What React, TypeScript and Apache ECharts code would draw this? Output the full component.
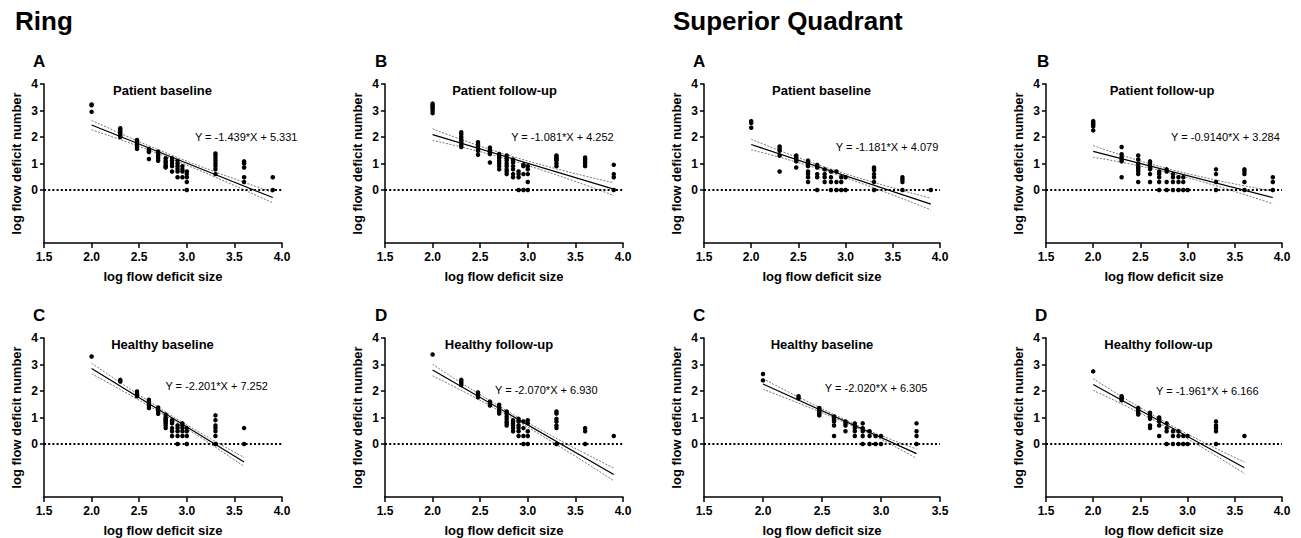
import React, { useEffect, useRef } from "react";
import * as echarts from "echarts";

// ---------- DATA ----------
// discrete x positions (log flow deficit size)
const xLevels = [2.0, 2.301, 2.477, 2.602, 2.699, 2.778, 2.845, 2.903, 2.954, 3.0, 3.301, 3.602, 3.903];

// y values (log flow deficit number) grouped by x level
const ringPatientBaseline = [
  [3.23, 3.2, 2.95],
  [2.33, 2.27, 2.2, 2.13, 2.06, 2.0],
  [1.89, 1.83, 1.77, 1.7, 1.62, 1.55],
  [1.55, 1.48, 1.43, 1.17],
  [1.45, 1.36, 1.28, 1.2, 1.1],
  [1.2, 1.1, 1.04, 0.95, 0.9, 0.85],
  [1.2, 1.1, 1.0, 0.9, 0.7],
  [1.1, 1.0, 0.9, 0.8, 0.7, 0.48],
  [0.9, 0.78, 0.7, 0.48],
  [0.7, 0.6, 0.48, 0.3, 0],
  [1.38, 1.3, 1.2, 1.1, 1.0, 0.9, 0.78, 0.6],
  [1.08, 1.0, 0.85, 0.48, 0.3],
  [0.48, 0],
];
const ringPatientFollowUp = [
  [3.26, 3.2, 3.14, 3.08, 3.0, 2.9],
  [2.18, 2.1, 2.0, 1.92, 1.85, 1.78, 1.7, 1.62],
  [1.8, 1.72, 1.65, 1.58, 1.48, 1.33],
  [1.6, 1.52, 1.44, 1.36, 1.04],
  [1.36, 1.28, 1.2, 1.1, 1.0, 0.9, 0.78],
  [1.3, 1.2, 1.11, 1.0, 0.9, 0.78, 0.7, 0.6],
  [1.15, 1.04, 0.9, 0.78, 0.6, 0.48],
  [0.7, 0.6, 0.48, 0],
  [0.95, 0.9, 0.6, 0],
  [0.9, 0.78, 0.6, 0.3, 0],
  [1.3, 1.25, 1.2, 1.15, 1.1, 1.0, 0.9],
  [1.23, 1.15, 1.08, 1.0, 0.9],
  [0.95, 0.6, 0.48, 0],
];
const sqPatientBaseline = [
  [2.6, 2.53, 2.35],
  [1.64, 1.56, 1.48, 1.3, 0.7],
  [1.3, 1.23, 1.15, 1.08, 0.85],
  [1.11, 1.0, 0.9, 0.7, 0.6, 0.48, 0.3],
  [0.95, 0.9, 0.85, 0.6, 0.48, 0],
  [0.78, 0.6, 0.48, 0.3],
  [0.7, 0.48, 0.3, 0],
  [0.7, 0.3, 0],
  [0.48, 0.3, 0],
  [0.48, 0],
  [0.85, 0.8, 0.75, 0.6, 0.48, 0.3, 0],
  [0.48, 0.4, 0.3, 0],
  [0],
];
const sqPatientFollowUp = [
  [2.6, 2.55, 2.48, 2.4, 2.25],
  [1.62, 1.35, 1.25, 1.15, 1.08, 0.48],
  [1.3, 1.15, 1.0, 0.9, 0.85, 0.78, 0.7, 0.6, 0.3],
  [1.08, 1.0, 0.9, 0.85, 0.78, 0.6, 0.3],
  [0.7, 0.6, 0.48, 0.3, 0],
  [0.78, 0.7, 0.3, 0],
  [0.6, 0.48, 0.3, 0],
  [0.48, 0.3, 0],
  [0.48, 0.3, 0],
  [0],
  [0.78, 0.6, 0.3, 0],
  [0.78, 0.7, 0.6, 0.3, 0],
  [0.48, 0.3, 0],
];
const ringHealthyBaseline = [
  [3.3],
  [2.42, 2.36],
  [1.98, 1.92, 1.86, 1.8],
  [1.67, 1.6, 1.52, 1.44, 1.36],
  [1.38, 1.3, 1.22, 1.14],
  [1.11, 1.0, 0.95, 0.9, 0.85, 0.78, 0.7, 0.6],
  [0.9, 0.85, 0.78, 0.6, 0.48, 0.3],
  [0.7, 0.6, 0.48, 0.3, 0],
  [0.78, 0.7, 0.6, 0.48, 0.3],
  [0.6, 0.48, 0.3, 0],
  [1.08, 0.9, 0.7, 0.6, 0.48, 0.3, 0],
  [0.6, 0],
  [],
];
const ringHealthyFollowUp = [
  [3.38],
  [2.42, 2.36, 2.3, 2.22],
  [1.95, 1.88, 1.82, 1.76],
  [1.6, 1.52, 1.45],
  [1.48, 1.4, 1.32, 1.23, 1.15],
  [1.23, 1.15, 1.04, 0.95, 0.85, 0.78, 0.7],
  [0.9, 0.85, 0.78, 0.7, 0.6, 0.48],
  [0.95, 0.85, 0.7, 0.6, 0.48, 0.3],
  [0.85, 0.6, 0.3, 0],
  [0.9, 0.78, 0.48, 0.3, 0],
  [1.23, 1.15, 0.95, 0.85, 0.7, 0.6, 0],
  [0.6, 0.48, 0],
  [0.3],
];
const sqHealthyBaseline = [
  [2.64, 2.4],
  [1.8, 1.72],
  [1.36, 1.3, 1.23, 1.15, 1.08],
  [1.04, 1.0, 0.95, 0.9, 0.85, 0.7, 0.3],
  [0.85, 0.78, 0.7, 0.48],
  [0.78, 0.7, 0.6, 0.48, 0.3],
  [0.78, 0.6, 0.48, 0.3, 0],
  [0.48, 0.3, 0],
  [0.3, 0],
  [0.3, 0],
  [0.78, 0.48, 0.3, 0],
  [],
  [],
];
const sqHealthyFollowUp = [
  [2.74],
  [1.8, 1.75, 1.7, 1.65],
  [1.36, 1.3, 1.23, 1.15, 1.11],
  [1.18, 1.11, 1.04, 1.0, 0.95, 0.7, 0.6],
  [1.0, 0.95, 0.9, 0.85, 0.7, 0.3],
  [0.78, 0.6, 0.48, 0],
  [0.48, 0.3, 0],
  [0.48, 0.3, 0],
  [0.3, 0],
  [0.3, 0],
  [0.85, 0.7, 0.6, 0.48, 0],
  [0.3],
  [],
];

const panelData = [
  ringPatientBaseline, ringPatientFollowUp, sqPatientBaseline, sqPatientFollowUp,
  ringHealthyBaseline, ringHealthyFollowUp, sqHealthyBaseline, sqHealthyFollowUp,
];
const panelTitles = [
  "Patient baseline", "Patient follow-up", "Patient baseline", "Patient follow-up",
  "Healthy baseline", "Healthy follow-up", "Healthy baseline", "Healthy follow-up",
];
const panelLetters = ["A", "B", "A", "B", "C", "D", "C", "D"];
const sectionTitles = ["Ring", "Superior Quadrant"];

// linear regression results
const slopes = [-1.439, -1.081, -1.181, -0.914, -2.201, -2.07, -2.02, -1.961];
const intercepts = [5.331, 4.252, 4.079, 3.284, 7.252, 6.93, 6.305, 6.166];
const equationTexts = [
  "Y = -1.439*X + 5.331", "Y = -1.081*X + 4.252", "Y = -1.181*X + 4.079", "Y = -0.9140*X + 3.284",
  "Y = -2.201*X + 7.252", "Y = -2.070*X + 6.930", "Y = -2.020*X + 6.305", "Y = -1.961*X + 6.166",
];
const equationAnchor = [
  [3.08, 2.0], [2.82, 2.0], [2.89, 1.64], [2.82, 2.0],
  [2.77, 2.2], [2.65, 2.03], [2.52, 2.1], [2.66, 2.0],
];
const fitXStart = [2.0, 2.0, 2.0, 2.0, 2.0, 2.0, 2.0, 2.0];
const fitXMid = [2.85, 2.85, 2.85, 2.85, 2.85, 2.85, 2.8, 2.8];
const fitXEnd = [3.903, 3.903, 3.903, 3.903, 3.602, 3.903, 3.301, 3.602];
// 95% confidence band half width at start / narrowest / end
const ciHalfWidth = [
  [0.18, 0.07, 0.2], [0.22, 0.08, 0.24], [0.2, 0.07, 0.22], [0.22, 0.07, 0.24],
  [0.2, 0.07, 0.17], [0.22, 0.08, 0.24], [0.2, 0.05, 0.18], [0.22, 0.08, 0.22],
];
const xAxisMax = [4, 4, 4, 4, 4, 4, 3.5, 4];

// ---------- LAYOUT ----------
const gridLeft = [44, 385, 704, 1046, 44, 385, 704, 1046];
const gridTop = [84, 84, 84, 84, 338, 338, 338, 338];
const gridWidth = [238, 238, 236, 236, 238, 238, 236, 236];
const gridHeight = 159;
const subtitleX = [162.5, 504.5, 821.5, 1162, 162.5, 499, 822, 1158.5];
const letterX = [33, 375, 693, 1037, 33, 375, 693, 1035];
const sectionX = [15, 673];

const FONT = '"Liberation Sans", Arial, Helvetica, sans-serif';

function buildOption() {
  const grid: any[] = [];
  const xAxis: any[] = [];
  const yAxis: any[] = [];
  const series: any[] = [];
  const graphic: any[] = [];

  sectionTitles.forEach((t, i) => {
    graphic.push({
      type: "text",
      x: sectionX[i],
      y: 21,
      style: {
        text: t, fill: "#000", font: `bold 26px ${FONT}`,
        align: "left", verticalAlign: "middle", textAlign: "left", textVerticalAlign: "middle",
      },
    });
  });

  panelData.forEach((groups, i) => {
    const top = gridTop[i];
    grid.push({ left: gridLeft[i], top, width: gridWidth[i], height: gridHeight, containLabel: false });

    xAxis.push({
      type: "value", gridIndex: i, min: 1.5, max: xAxisMax[i], interval: 0.5,
      name: "log flow deficit size", nameLocation: "middle", nameGap: 27,
      nameTextStyle: { fontFamily: FONT, fontWeight: "bold", fontSize: 13, color: "#000" },
      axisLine: { show: true, onZero: false, lineStyle: { color: "#000", width: 1.5 } },
      axisTick: { show: true, length: 5, lineStyle: { color: "#000", width: 1.5 } },
      axisLabel: {
        fontFamily: FONT, fontWeight: "bold", fontSize: 12, color: "#000", margin: 8,
        formatter: (v: number) => v.toFixed(1),
      },
      splitLine: { show: false },
    });
    yAxis.push({
      type: "value", gridIndex: i, min: -2, max: 4, interval: 1,
      name: "log flow deficit number", nameLocation: "middle", nameGap: 21,
      nameTextStyle: { fontFamily: FONT, fontWeight: "bold", fontSize: 13, color: "#000" },
      axisLine: { show: true, onZero: false, lineStyle: { color: "#000", width: 1.5 } },
      axisTick: { show: true, length: 4, lineStyle: { color: "#000", width: 1.5 }, customValues: [0, 1, 2, 3, 4] },
      axisLabel: {
        fontFamily: FONT, fontWeight: "bold", fontSize: 12, color: "#000", margin: 6,
        customValues: [0, 1, 2, 3, 4],
        formatter: (v: number) => (v < 0 ? "" : String(v)),
      },
      splitLine: { show: false },
    });

    const pts: number[][] = [];
    groups.forEach((ys, k) => ys.forEach((y) => pts.push([xLevels[k], y])));

    const s = slopes[i];
    const b = intercepts[i];
    const cx = [fitXStart[i], fitXMid[i], fitXEnd[i]];
    const hw = ciHalfWidth[i];

    series.push({
      type: "line", xAxisIndex: i, yAxisIndex: i, symbol: "none", silent: true,
      data: [[fitXStart[i], s * fitXStart[i] + b], [fitXEnd[i], s * fitXEnd[i] + b]],
      lineStyle: { color: "#000", width: 1.2 }, z: 3,
    });
    series.push({
      type: "line", xAxisIndex: i, yAxisIndex: i, symbol: "none", silent: true, smooth: true,
      data: cx.map((x, k) => [x, s * x + b + hw[k]]),
      lineStyle: { color: "#777", width: 1, type: [2, 1.5] }, z: 2,
    });
    series.push({
      type: "line", xAxisIndex: i, yAxisIndex: i, symbol: "none", silent: true, smooth: true,
      data: cx.map((x, k) => [x, s * x + b - hw[k]]),
      lineStyle: { color: "#777", width: 1, type: [2, 1.5] }, z: 2,
    });
    series.push({
      type: "scatter", xAxisIndex: i, yAxisIndex: i, data: pts, symbolSize: 4.5,
      itemStyle: { color: "#000", opacity: 1 }, z: 4,
      markLine: {
        silent: true, symbol: ["none", "none"], label: { show: false },
        lineStyle: { color: "#000", type: [2, 2.2], width: 1.8 },
        data: [{ yAxis: 0 }],
      },
      markPoint: {
        silent: true, symbol: "rect", symbolSize: [1, 1],
        itemStyle: { color: "rgba(0,0,0,0)" },
        data: [{
          coord: equationAnchor[i],
          label: {
            show: true, position: "right", distance: 0, formatter: equationTexts[i],
            fontFamily: FONT, fontSize: 11, color: "#000",
          },
        }],
      },
    });

    graphic.push({
      type: "text", x: subtitleX[i], y: top + 6,
      style: {
        text: panelTitles[i], fill: "#000", font: `bold 13px ${FONT}`,
        align: "center", verticalAlign: "middle", textAlign: "center", textVerticalAlign: "middle",
      },
    });
    graphic.push({
      type: "text", x: letterX[i], y: top - 23,
      style: {
        text: panelLetters[i], fill: "#000", font: `bold 17px ${FONT}`,
        align: "left", verticalAlign: "middle", textAlign: "left", textVerticalAlign: "middle",
      },
    });
  });

  return {
    animation: false,
    backgroundColor: "#fff",
    textStyle: { fontFamily: FONT },
    grid, xAxis, yAxis, series, graphic,
  };
}

export default function App() {
  const ref = useRef<HTMLDivElement>(null);
  useEffect(() => {
    document.body.style.margin = "0";
    const chart = echarts.init(ref.current!, undefined, { renderer: "svg" });
    chart.setOption(buildOption() as any);
    return () => chart.dispose();
  }, []);
  return <div ref={ref} style={{ width: 1301, height: 538 }} />;
}
